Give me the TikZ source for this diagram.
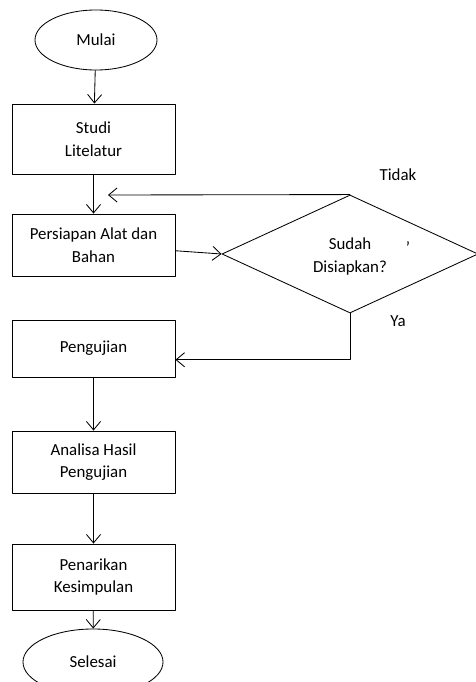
\documentclass[tikz,border=0pt]{standalone}
\usepackage{fontspec}
\setmainfont{Carlito}
\usepackage{tikz}
\usetikzlibrary{arrows.meta,shapes}
\tikzset{
  every picture/.style={line join=round, line cap=round},
  kotak/.style={draw, rectangle, line width=0.6pt, minimum width=4.075cm, inner sep=0pt, align=center},
  ujung/.style={draw, ellipse, line width=0.6pt, inner sep=0pt},
  cek/.style={draw, diamond, line width=0.6pt, minimum width=6.4cm, minimum height=2.95cm, inner sep=0pt, align=center},
}

\begin{document}
\begin{tikzpicture}[x=0.025cm,y=-0.025cm,line width=0.6pt,->,>={Straight Barb[length=6pt,width=10pt]},
  every node/.append style={font=\fontsize{12}{16}\selectfont}]
\useasboundingbox(0,0)rectangle(475,682);
\node[ujung,minimum width=3.05cm,minimum height=1.5cm](mulai)at(96,40){Mulai};
\node[kotak,minimum height=1.75cm](studi)at(93.5,139){Studi\\Litelatur};
\node[kotak,minimum height=1.55cm](persiapan)at(93.5,245){Persiapan Alat dan\\Bahan};
\node[cek](siap)at(350,254){\\[-4pt]Sudah\\Disiapkan?};
\node[kotak,minimum height=1.425cm](pengujian)at(93.5,348.5){Pengujian};
\node[kotak,minimum height=1.55cm](analisa)at(93.5,462){Analisa Hasil\\Pengujian};
\node[kotak,minimum height=1.65cm](penarikan)at(93.5,577){Penarikan\\Kesimpulan};
\node[ujung,minimum width=3.5cm,minimum height=1.65cm](selesai)at(93,662){Selesai};
\coordinate(balik)at(108,195);
\node(tidak)at(398,175){Tidak};
\node(ya)at(398,321){Ya};
\node(titik)at(408,248){'};
\draw(mulai)--(studi);
\draw(studi)--(persiapan);
\draw(siap.north)--(balik);
\draw(persiapan)--(siap.west);
\draw(siap.south)|-([yshift=-8pt]pengujian.east);
\draw(pengujian)--(analisa);
\draw(analisa)--(penarikan);
\draw(penarikan)--(selesai);
\end{tikzpicture}
\end{document}
